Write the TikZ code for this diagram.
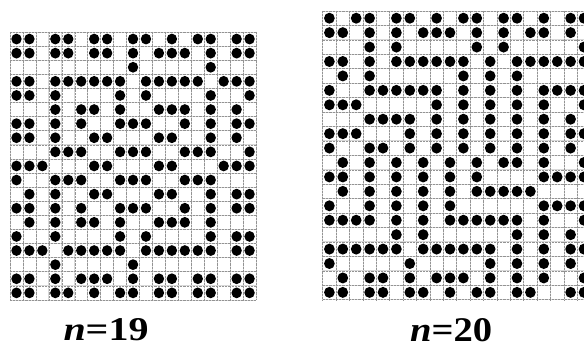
\documentclass[tikz,border=0pt]{standalone}
\usepackage{graphicx}
\usepackage{fontspec}
\setmainfont{Liberation Serif}
\tikzset{
  gridbase/.style={draw=gray!30,line width=0.8pt},
  griddots/.style={draw=gray!85,line width=0.45pt,densely dotted},
  labeltext/.style={anchor=base west,inner sep=0pt}
}
\begin{document}
\begin{tikzpicture}[x=1pt,y=-1pt]
\useasboundingbox (0,0) rectangle (584,345);
\fill[white] (0,0) rectangle (584,345);

% ---------- n = 19 ----------
\begin{scope}[shift={(10,32)},x=12.95pt,y=-14.1pt]
  \foreach \i in {0,...,19} {
    \draw[gridbase] (\i,0) -- (\i,19);
    \draw[gridbase] (0,\i) -- (19,\i);
  }
  \foreach \i in {0,...,19} {
    \draw[griddots] (\i,0) -- (\i,19);
    \draw[griddots] (0,\i) -- (19,\i);
  }
  \foreach \r/\cols in {
    0/{0,1,3,4,6,7,9,10,12,14,15,17,18},
    1/{0,1,3,4,6,7,9,11,12,13,15,17,18},
    2/{9,15},
    3/{0,1,3,4,5,6,7,8,10,11,12,13,14,16,17,18},
    4/{0,1,3,8,10,15,18},
    5/{3,5,6,8,11,12,13,15,17},
    6/{0,1,3,5,8,9,10,13,15,17,18},
    7/{0,1,3,6,7,11,12,15,17},
    8/{3,4,5,8,9,10,13,14,15,18},
    9/{0,1,2,6,7,11,12,16,17,18},
    10/{0,3,4,5,8,9,10,13,14,15},
    11/{1,3,6,7,11,12,15,17,18},
    12/{0,1,3,5,8,9,10,13,15,17,18},
    13/{1,3,5,6,8,11,12,13,15},
    14/{0,3,8,10,15,17,18},
    15/{0,1,2,4,5,6,7,8,10,11,12,13,14,15,17,18},
    16/{3,9},
    17/{0,1,3,5,6,7,9,11,12,14,15,17,18},
    18/{0,1,3,4,6,8,9,11,12,14,15,17,18}} {
    \foreach \c in \cols
      \fill[black] (\c+0.5,\r+0.5) ellipse [x radius=5.2pt,y radius=5.4pt];
  }
\end{scope}

% ---------- n = 20 (cut at the right edge) ----------
\begin{scope}
\clip (0,0) rectangle (584,345);
\begin{scope}[shift={(322.7,11)},x=13.4pt,y=-14.43pt]
  \foreach \i in {0,...,20} {
    \draw[gridbase] (\i,0) -- (\i,20);
    \draw[gridbase] (0,\i) -- (20,\i);
  }
  \foreach \i in {0,...,20} {
    \draw[griddots] (\i,0) -- (\i,20);
    \draw[griddots] (0,\i) -- (20,\i);
  }
  \foreach \r/\cols in {
    0/{0,2,3,5,6,8,10,11,13,14,16,18,19},
    1/{0,1,3,5,7,8,9,11,13,15,16,18},
    2/{3,5,11,13,19},
    3/{0,1,3,5,6,7,8,9,10,12,14,15,16,17,18,19},
    4/{1,3,10,12,14},
    5/{0,3,4,5,6,7,8,10,12,14,16,17,18,19},
    6/{0,1,2,8,10,12,14,16,19},
    7/{3,4,5,6,8,10,12,14,16,18},
    8/{0,1,2,6,8,10,12,14,16,18,19},
    9/{0,3,4,6,8,10,12,14,16,18},
    10/{1,3,5,7,9,11,13,14,16,19},
    11/{0,1,3,5,7,9,11,16,17,18,19},
    12/{1,3,5,7,9,11,12,13,14,15},
    13/{0,3,5,7,9,16,17,18,19},
    14/{0,1,2,3,5,7,9,10,11,12,13,14,16,19},
    15/{5,7,14,16,18},
    16/{0,1,2,3,4,5,7,8,9,10,11,12,14,16,18,19},
    17/{0,6,12,14,16,18},
    18/{1,3,4,6,8,9,10,12,14,16,19},
    19/{0,1,3,4,6,7,9,11,12,14,15,18,19}} {
    \foreach \c in \cols
      \fill[black] (\c+0.5,\r+0.5) ellipse [x radius=5.35pt,y radius=5.5pt];
  }
\end{scope}
\end{scope}

% ---------- labels ----------
\node[labeltext] (lab19) at (63.3,340.5) {\resizebox{85pt}{22pt}{\bfseries\textit{n}=19}};
\node[labeltext] (lab20) at (410,341) {\resizebox{82pt}{23pt}{\bfseries\textit{n}=20}};
\end{tikzpicture}
\end{document}
